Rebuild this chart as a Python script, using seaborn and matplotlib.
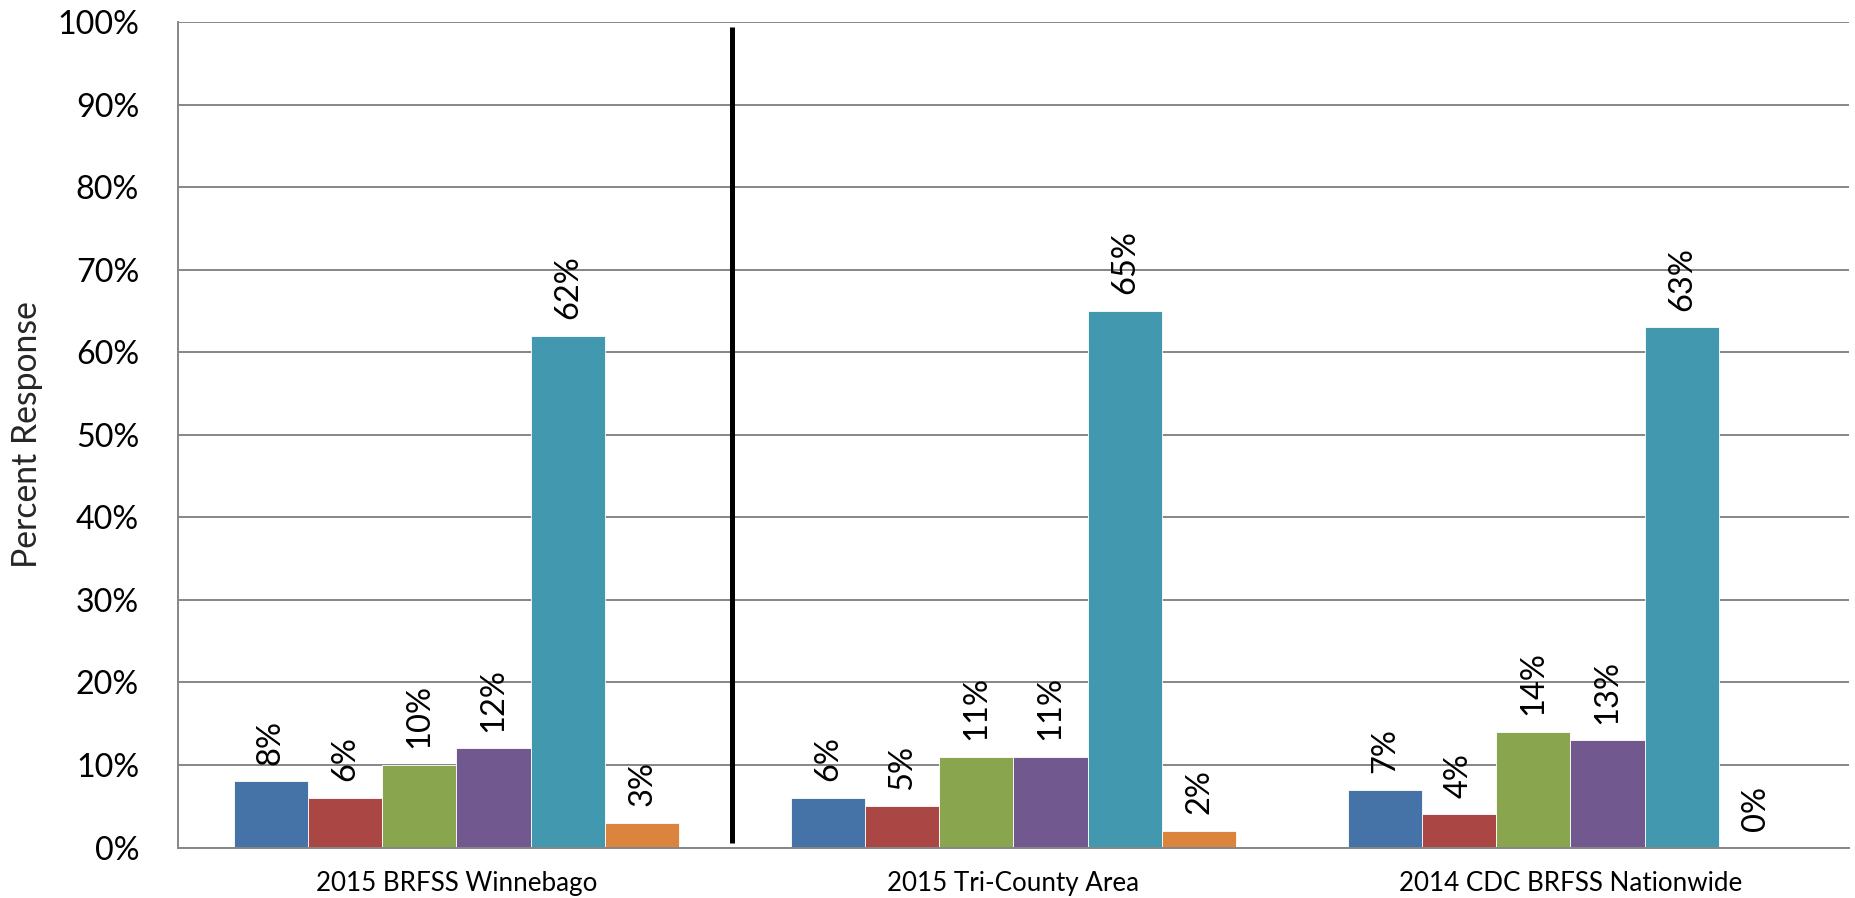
import matplotlib
matplotlib.use("Agg")
import matplotlib.pyplot as plt
import seaborn as sns
import pandas as pd
from matplotlib.ticker import FixedLocator

groups = ["2015 BRFSS Winnebago", "2015 Tri-County Area", "2014 CDC BRFSS Nationwide"]
series = ["Series 1", "Series 2", "Series 3", "Series 4", "Series 5", "Series 6"]
values_winnebago = [8, 6, 10, 12, 62, 3]
values_tricounty = [6, 5, 11, 11, 65, 2]
values_nationwide = [7, 4, 14, 13, 63, 0]
colors = ["#4572A7", "#AA4643", "#89A54E", "#71588F", "#4198AF", "#DB843D"]
yticks = [0, 10, 20, 30, 40, 50, 60, 70, 80, 90, 100]

rows = []
for g, vals in zip(groups, [values_winnebago, values_tricounty, values_nationwide]):
    for s, v in zip(series, vals):
        rows.append({"group": g, "series": s, "value": v})
df = pd.DataFrame(rows)

sns.set_theme(style="white")
plt.rcParams["font.family"] = ["Lato", "DejaVu Sans"]

fig = plt.figure(figsize=(18.56, 8.98), dpi=100)
renderer = fig.canvas.get_renderer()


def fit_size(text, target_px, base=20.0):
    t = fig.text(0, 0, text, fontsize=base)
    w = t.get_window_extent(renderer=renderer).width
    t.remove()
    return base * target_px / w


xtick_fs = fit_size("2015 Tri-County Area", 252)
ytick_fs = fit_size("100%", 82)
ylabel_fs = fit_size("Percent Response", 268)
bar_fs = fit_size("62%", 64)

ax = fig.add_axes([178 / 1856, 1 - 847.5 / 898, (1849 - 178) / 1856, (847.5 - 22) / 898])

sns.barplot(data=df, x="group", y="value", hue="series", order=groups, hue_order=series,
            palette=colors, width=0.8, legend=False, ax=ax, edgecolor="white", linewidth=0.6,
            saturation=1)

for cont in ax.containers:
    ax.bar_label(cont, labels=[f"{v:.0f}%" for v in cont.datavalues], rotation=90,
                 padding=12, fontsize=bar_fs, color="black")

ax.set_xlim(-0.5, 2.5)
ax.set_ylim(0, 100)
ax.set_yticks(yticks)
ax.set_yticklabels([f"{t}%" for t in yticks], fontsize=ytick_fs)
ax.yaxis.grid(True, color="#868686", linewidth=1.4)
ax.set_axisbelow(True)

ax.set_xticks([0, 1, 2])
ax.set_xticklabels(groups, fontsize=xtick_fs)
ax.xaxis.set_minor_locator(FixedLocator([-0.5, 0.5, 1.5, 2.5]))
ax.tick_params(axis="x", which="major", length=0, pad=17, labelcolor="black")
ax.tick_params(axis="x", which="minor", length=12, width=1.4, color="#868686", direction="out")
ax.tick_params(axis="y", which="major", length=12, width=1.4, color="#868686", direction="out",
               pad=16, labelcolor="black")

ax.set_xlabel("")
ax.set_ylabel("Percent Response", fontsize=ylabel_fs, labelpad=10)

for side in ["top", "right"]:
    ax.spines[side].set_visible(False)
for side in ["left", "bottom"]:
    ax.spines[side].set_color("#868686")
    ax.spines[side].set_linewidth(1.4)

ax.plot([0.495, 0.495], [0.55, 99.4], color="black", linewidth=3.6, solid_capstyle="butt")

fig.savefig("out.png", dpi=100)
